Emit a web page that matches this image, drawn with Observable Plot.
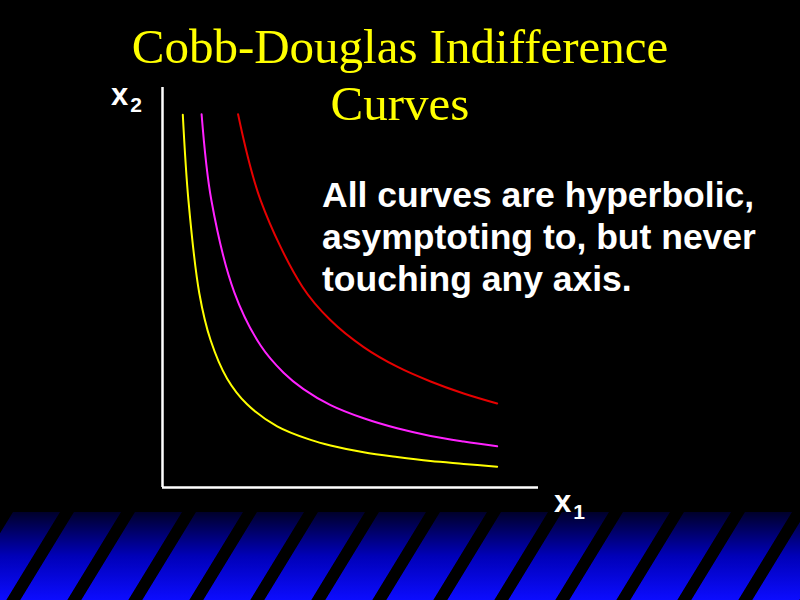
<!DOCTYPE html>
<html>
<head>
<meta charset="utf-8">
<script src="https://cdn.jsdelivr.net/npm/d3@7"></script>
<script src="https://cdn.jsdelivr.net/npm/@observablehq/plot@0.6"></script>
<style>
  html, body { margin: 0; padding: 0; background: #000; }
  #slide { position: relative; width: 800px; height: 600px; background: #000; overflow: hidden; }
  #band { position: absolute; left: 0; top: 512px; width: 800px; height: 88px; }
  #chart { position: absolute; left: 0; top: 0; }
  .title { position: absolute; left: 0; width: 800px; top: 18px; text-align: center;
           font-family: "Liberation Serif", "Times New Roman", serif; font-size: 49px; line-height: 57px; color: #ffff00; }
  .note { position: absolute; left: 322px; top: 174px; font-family: "Liberation Sans", Arial, sans-serif;
          font-weight: bold; font-size: 35.5px; line-height: 42px; color: #fff; white-space: nowrap; }
  .lab { position: absolute; font-family: "Liberation Sans", Arial, sans-serif; font-weight: bold;
         font-size: 31px; line-height: 32px; color: #fff; white-space: nowrap; }
  .lab sub { font-size: 21px; position: relative; top: 7px; vertical-align: baseline; margin-left: 2px; }
</style>
</head>
<body>
<div id="slide">
  <svg id="band" width="800" height="88" xmlns="http://www.w3.org/2000/svg">
    <defs>
      <linearGradient id="bg" x1="0" y1="0" x2="0" y2="1">
        <stop offset="0" stop-color="#00002a"/>
        <stop offset="0.5" stop-color="#0000b8"/>
        <stop offset="1" stop-color="#0c0cff"/>
      </linearGradient>
      <pattern id="stripes" patternUnits="userSpaceOnUse" width="61" height="88"
               patternTransform="translate(-1,0) skewX(-31.4)">
        <rect x="0" y="0" width="14" height="88" fill="#000"/>
      </pattern>
    </defs>
    <rect width="800" height="88" fill="url(#bg)"/>
    <rect width="800" height="88" fill="url(#stripes)"/>
  </svg>
  <div id="chart"></div>
  <div class="title">Cobb-Douglas Indifference<br>Curves</div>
  <div class="note">All curves are hyperbolic,<br>asymptoting to, but never<br>touching any axis.</div>
  <div class="lab" style="left:111px; top:79px;">x<sub>2</sub></div>
  <div class="lab" style="left:554px; top:486px;">x<sub>1</sub></div>
</div>
<script>
// Curve names and colours
const curveNames = ["low", "middle", "high"];
const curveColors = ["#ffff00", "#ff22ff", "#e60000"];

// Points (x1, x2 in arbitrary units, axes 0..10)
const lowX1 = [0.54, 0.69, 0.98, 1.28, 1.72, 2.25, 3.05, 3.94, 4.47, 5.35, 6.24, 7.13, 8.01, 8.90];
const lowX2 = [9.32, 7.18, 4.85, 3.68, 2.72, 2.08, 1.53, 1.19, 1.05, 0.88, 0.76, 0.66, 0.59, 0.52];

const midX1 = [1.04, 1.30, 1.91, 2.61, 3.22, 3.75, 4.47, 5.35, 6.24, 7.13, 8.01, 8.90];
const midX2 = [9.33, 7.18, 4.88, 3.55, 2.87, 2.46, 2.06, 1.73, 1.48, 1.29, 1.15, 1.03];

const highX1 = [2.01, 2.61, 3.72, 4.47, 5.35, 6.24, 7.13, 8.01, 8.90];
const highX2 = [9.33, 7.18, 5.02, 4.18, 3.51, 3.02, 2.65, 2.35, 2.10];

const axisDomain = [0, 10];

const rows = [];
[[lowX1, lowX2], [midX1, midX2], [highX1, highX2]].forEach(([xs, ys], i) => {
  xs.forEach((x, j) => rows.push({x1: x, x2: ys[j], curve: curveNames[i]}));
});

const chart = Plot.plot({
  width: 800,
  height: 600,
  marginLeft: 162,
  marginRight: 262,
  marginTop: 87,
  marginBottom: 113,
  x: {domain: axisDomain, axis: null},
  y: {domain: axisDomain, axis: null},
  color: {domain: curveNames, range: curveColors},
  style: {background: "transparent", overflow: "visible"},
  marks: [
    Plot.ruleX([0], {stroke: "#ffffff", strokeWidth: 2.5}),
    Plot.ruleY([0], {stroke: "#ffffff", strokeWidth: 2.5}),
    Plot.line(rows, {x: "x1", y: "x2", z: "curve", stroke: "curve", strokeWidth: 2, curve: "catmull-rom"})
  ]
});
document.getElementById("chart").appendChild(chart);
</script>
</body>
</html>
